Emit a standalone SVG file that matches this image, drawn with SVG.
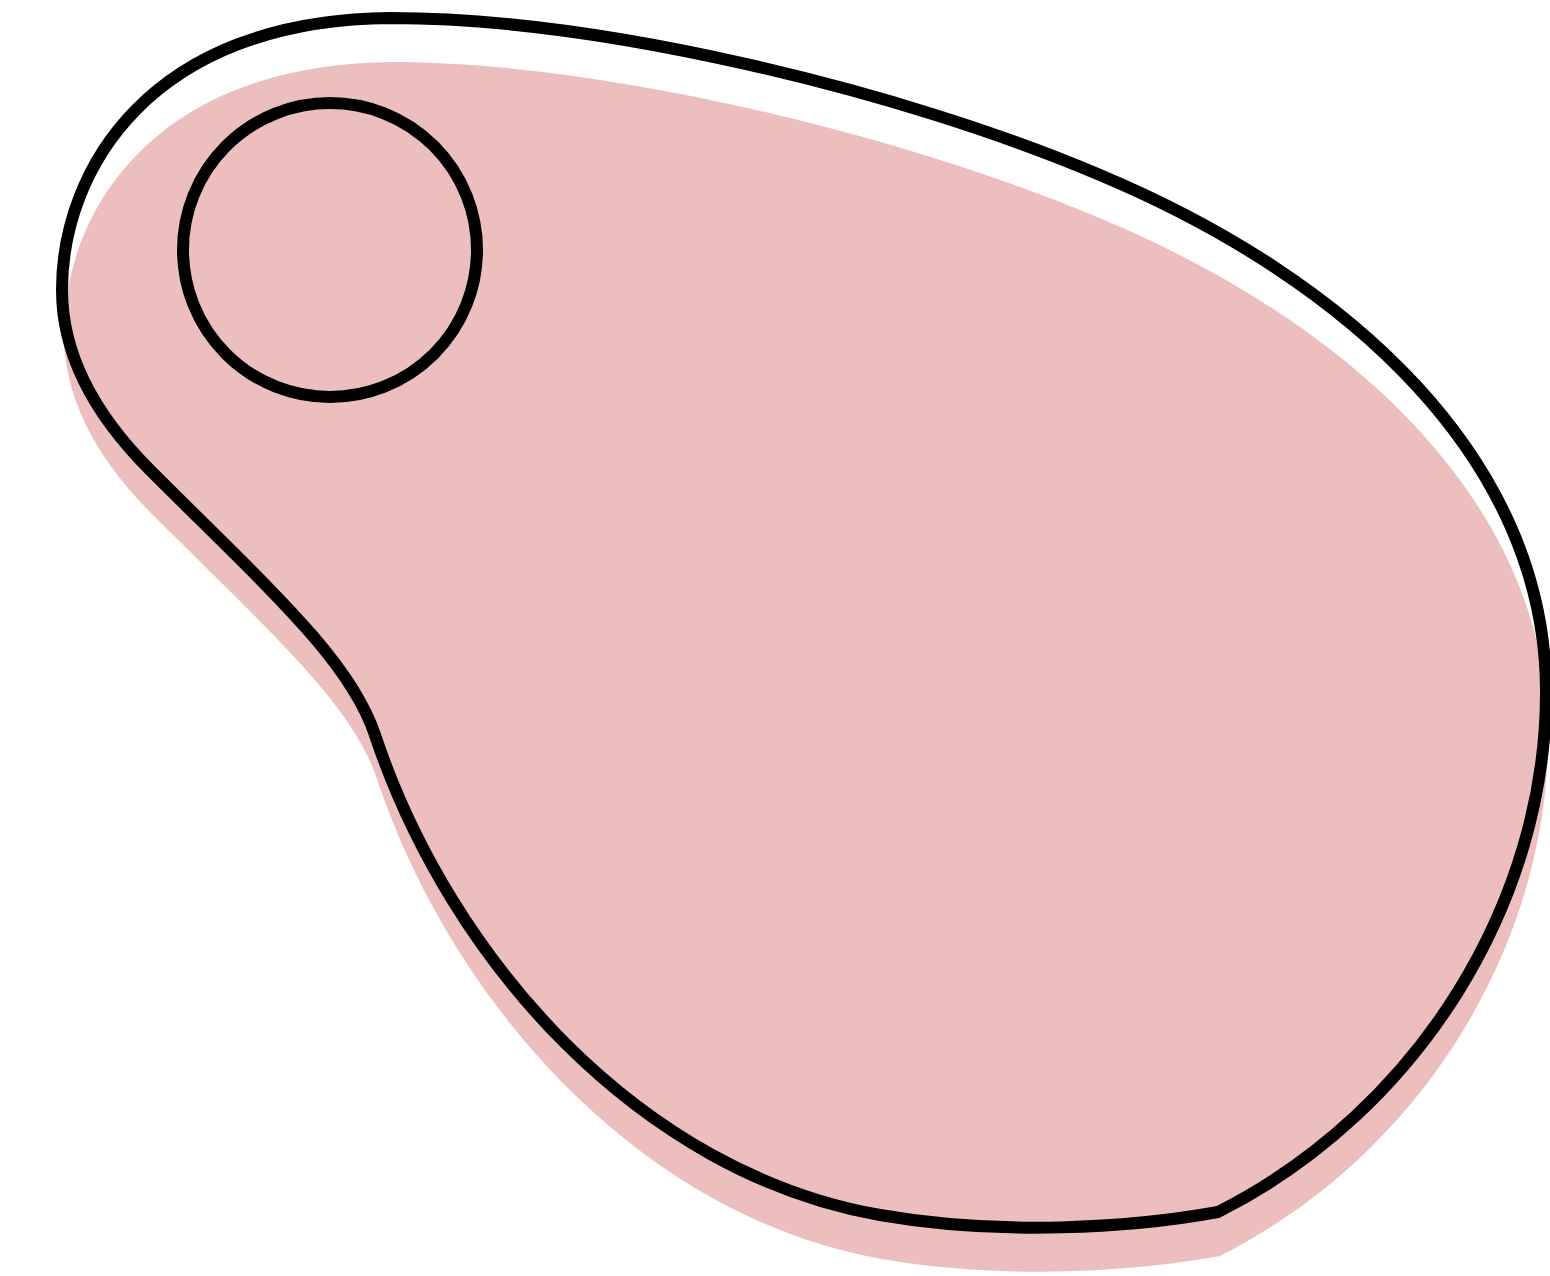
<svg xmlns="http://www.w3.org/2000/svg" xmlns:xlink="http://www.w3.org/1999/xlink" width="1550" height="1276" viewBox="0 0 1550 1276">
<style>
.fill{fill:#ECBFBE;stroke:none}
.line{fill:none;stroke:#000;stroke-width:12}
</style>
<defs>
<path id="blob" d="M390,18 C600,18 900,90 1100,175 C1350,280 1545,460 1546,690 C1547,900 1420,1110 1218,1212 C1130,1228 1000,1236 880,1215 C640,1173 450,960 375,735 C350,660 270,590 150,470 C90,410 62,350 62,290 C62,170 150,20 390,18 Z"/>
</defs>
<rect width="1550" height="1276" fill="#fff"/>
<g id="shadow"><use xlink:href="#blob" href="#blob" class="fill" transform="translate(2,44)"/></g>
<g id="outline"><use xlink:href="#blob" href="#blob" class="line"/></g>
<g id="circle"><circle cx="330" cy="250" r="147" class="line"/></g>
</svg>
